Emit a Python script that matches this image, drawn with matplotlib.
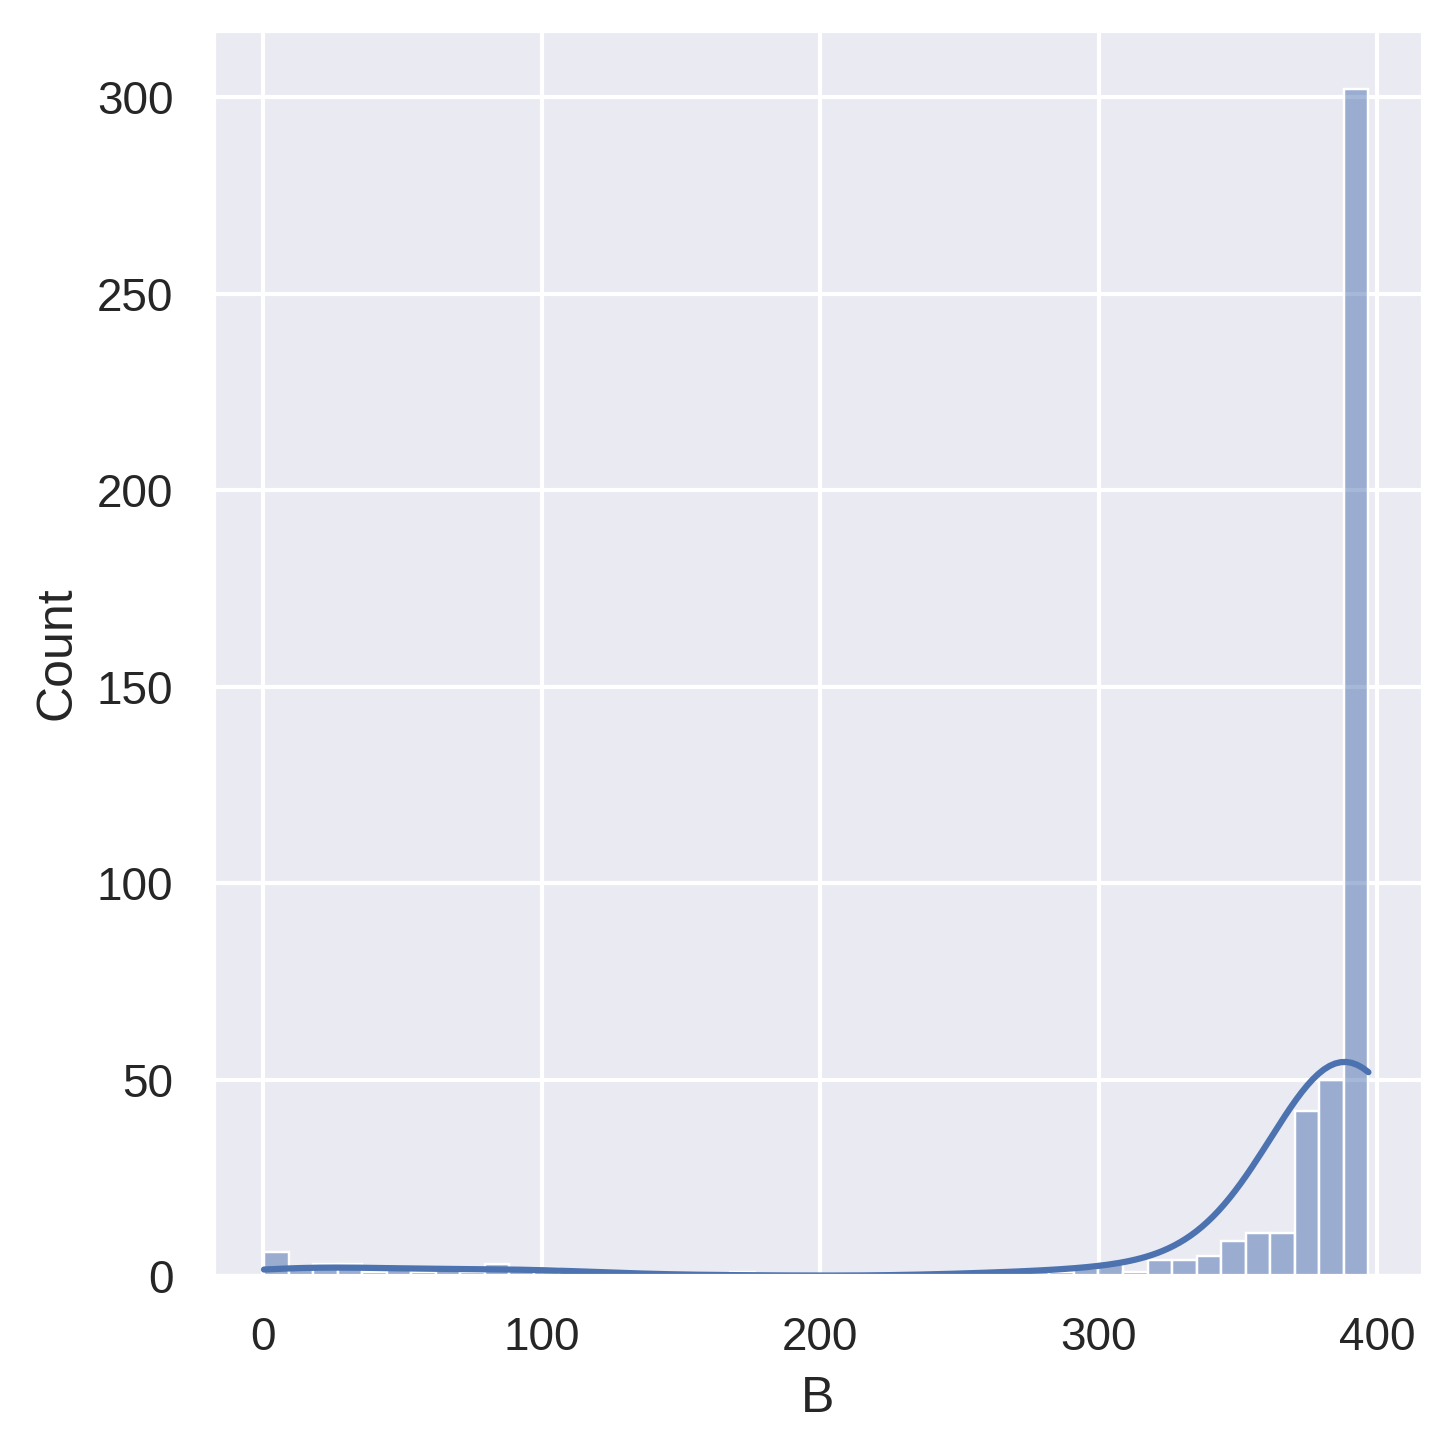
import numpy as np
import seaborn as sns
from matplotlib import pyplot as plt

# histogram of B, 45 bins between min and max, counts
b_min = 0.32
b_max = 396.9
n_bins = 45
counts = [6, 2, 3, 3, 1, 2, 1, 2, 1, 3, 2, 2,
          1, 1, 1, 0, 0, 0, 0, 1, 0, 0, 0, 0,
          0, 0, 0, 0, 1, 1, 1, 1,
          1, 2, 3, 1, 4, 4, 5, 9, 11, 11, 42, 50, 302]

edges = np.linspace(b_min, b_max, n_bins + 1)
centers = (edges[:-1] + edges[1:]) / 2
b_values = np.repeat(centers, counts)

sns.set_theme()
plt.rcParams['font.family'] = ['Liberation Sans', 'DejaVu Sans']

fig = plt.figure(figsize=(1453 / 300, 1453 / 300), dpi=300)
ax = fig.add_axes([213 / 1453, 1 - 1276 / 1453, 1210 / 1453, 1246 / 1453])
sns.histplot(x=b_values, bins=edges, kde=True, ax=ax,
             kde_kws={'cut': 3, 'clip': (b_min, b_max), 'bw_adjust': 1.05})
ax.set_xlim(-18, 416.5)
ax.set_xlabel("B")
ax.set_ylabel("Count")

fig.savefig("out.png", dpi=300)
